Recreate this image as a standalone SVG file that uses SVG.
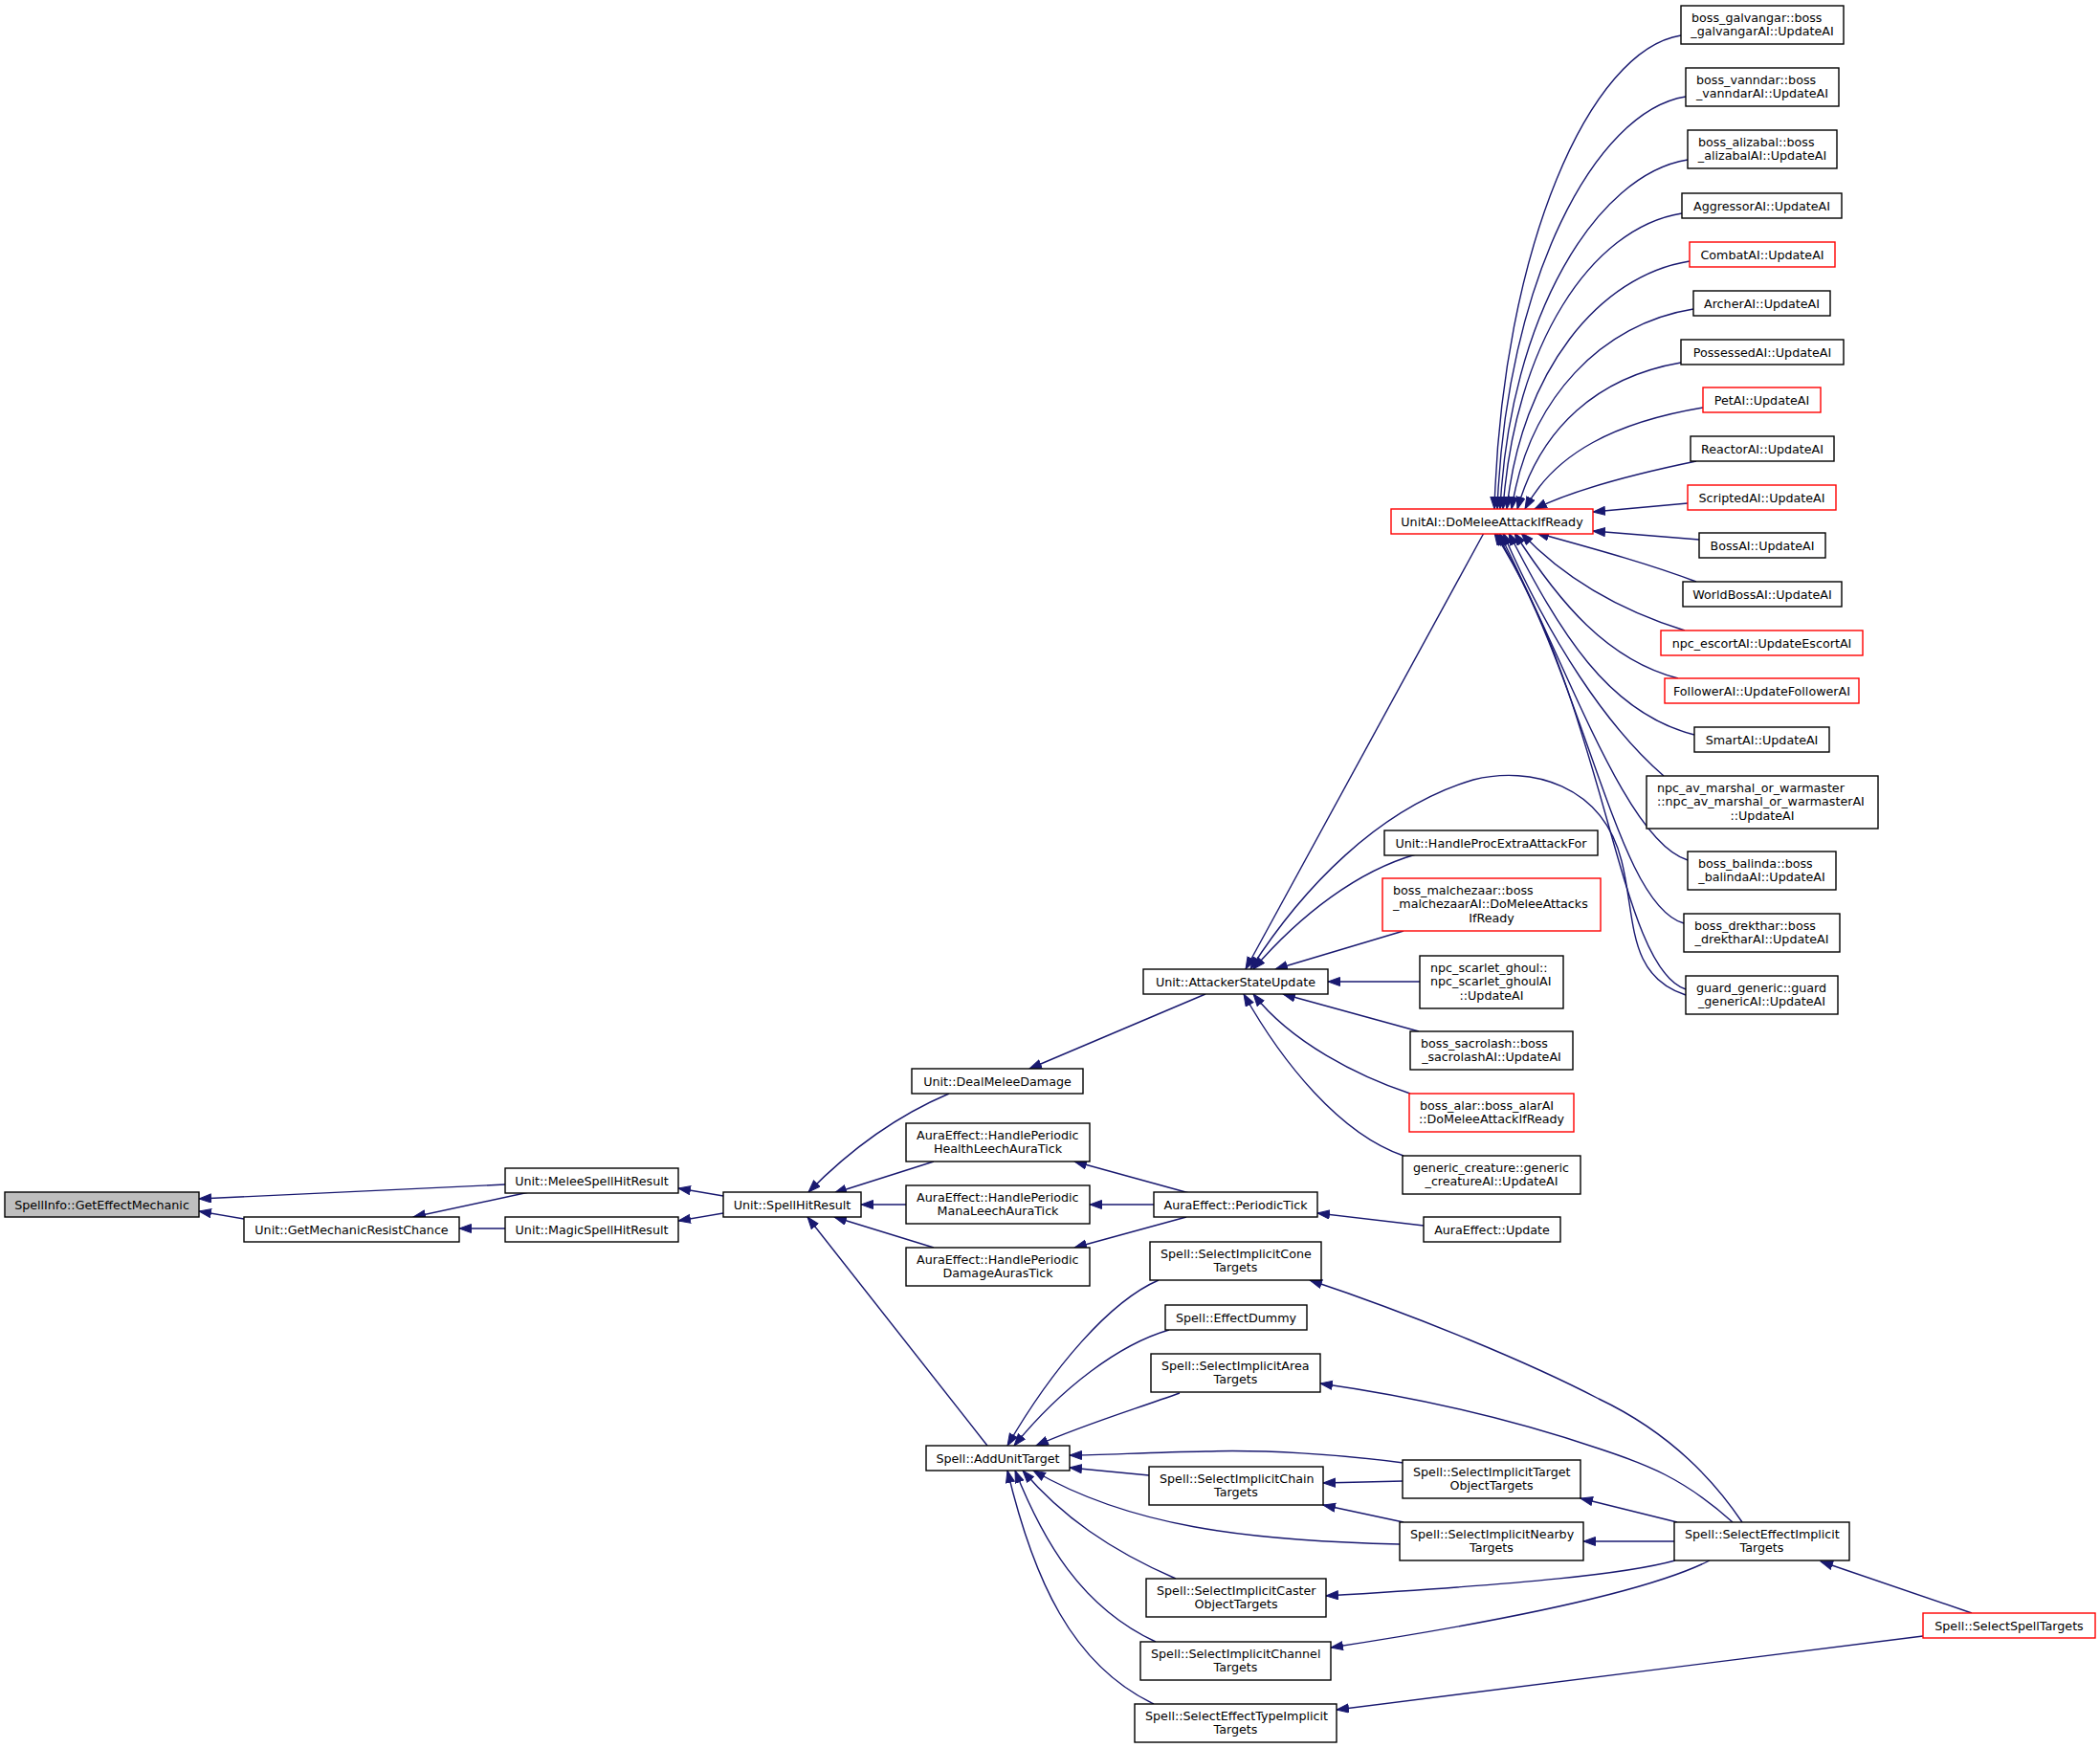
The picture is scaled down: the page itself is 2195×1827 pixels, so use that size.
<svg xmlns="http://www.w3.org/2000/svg" width="2195" height="1827" viewBox="0 0 2195 1827">
<defs>
<style>
.n rect{fill:#fff;stroke:#000;stroke-width:1.4}
.r rect{fill:#fff;stroke:#ff0000;stroke-width:1.4}
.g rect{fill:#bfbfbf;stroke:#000;stroke-width:1.4}
text{font-family:"DejaVu Sans","Liberation Sans",sans-serif;font-size:12.7px;fill:#000}
.c{text-anchor:middle}
#edges path{fill:none;stroke:#191970;stroke-width:1.4;marker-end:url(#ah)}
</style>
<marker id="ah" markerUnits="userSpaceOnUse" markerWidth="16" markerHeight="12" refX="13" refY="5" orient="auto" viewBox="0 0 16 12">
<path d="M0.5,0.5 L13,5 L0.5,9.5 z" fill="#191970" stroke="#191970" stroke-width="1"/>
</marker>
</defs>
<rect width="2195" height="1827" fill="#fff"/>
<g id="edges">
<path d="M528,1238 L208,1253"/>
<path d="M255,1274 L208,1266"/>
<path d="M553,1246 L432,1272"/>
<path d="M528,1284 L480,1284"/>
<path d="M756,1250 L709,1242"/>
<path d="M756,1268 L709,1276"/>
<path d="M992,1143 C940,1165 890,1200 845,1246"/>
<path d="M976,1214 L872,1247"/>
<path d="M947,1259 L900,1259"/>
<path d="M976,1304 L872,1272"/>
<path d="M1032,1511 L844,1272"/>
<path d="M1243,1247 L1123,1214"/>
<path d="M1206,1259 L1139,1259"/>
<path d="M1240,1272 L1123,1304"/>
<path d="M1488,1281 L1377,1268"/>
<path d="M1260,1039 L1076,1117"/>
<path d="M1551,557 L1302,1013"/>
<path d="M1480,893 C1420,910 1360,955 1310,1013"/>
<path d="M1467,973 L1333,1013"/>
<path d="M1484,1026 L1388,1026"/>
<path d="M1483,1078 L1341,1039"/>
<path d="M1474,1143 C1420,1125 1350,1090 1310,1039"/>
<path d="M1467,1208 C1400,1185 1340,1110 1300,1039"/>
<path d="M1762,1040 C1700,1020 1710,960 1695,900 C1675,820 1600,800 1540,815 C1440,845 1360,930 1307,1013"/>
<path d="M1757,37 C1662,52 1570,259 1562,532"/>
<path d="M1762,101 C1667,116 1574,294 1565,532"/>
<path d="M1764,167 C1669,182 1578,330 1568,532"/>
<path d="M1758,223 C1663,238 1583,361 1571,532"/>
<path d="M1766,273 C1671,288 1590,389 1575,532"/>
<path d="M1770,323 C1675,338 1598,416 1580,532"/>
<path d="M1757,379 C1670,394 1610,447 1586,532"/>
<path d="M1780,426 C1690,441 1625,473 1594,532"/>
<path d="M1773,482 C1710,495 1645,512 1604,532"/>
<path d="M1764,526 L1665,535"/>
<path d="M1776,564 L1665,555"/>
<path d="M1773,608 C1720,588 1660,572 1606,557"/>
<path d="M1761,659 C1700,640 1640,610 1590,557"/>
<path d="M1754,709 C1680,690 1630,630 1583,557"/>
<path d="M1771,768 C1680,745 1630,660 1577,557"/>
<path d="M1739,811 C1680,760 1620,670 1571,557"/>
<path d="M1764,899 C1700,880 1640,700 1567,557"/>
<path d="M1760,965 C1690,945 1660,720 1564,557"/>
<path d="M1762,1034 C1690,1010 1680,740 1562,557"/>
<path d="M1211,1338 C1160,1360 1100,1430 1053,1511"/>
<path d="M1222,1390 C1170,1405 1110,1450 1060,1511"/>
<path d="M1233,1456 C1180,1475 1130,1490 1083,1511"/>
<path d="M1467,1529 C1400,1520 1320,1515 1260,1517 C1200,1518 1150,1521 1118,1521"/>
<path d="M1201,1542 L1118,1534"/>
<path d="M1463,1614 C1300,1610 1180,1595 1080,1537"/>
<path d="M1229,1650 C1160,1620 1110,1585 1069,1537"/>
<path d="M1208,1716 C1130,1680 1090,1610 1061,1537"/>
<path d="M1206,1781 C1120,1740 1080,1650 1053,1537"/>
<path d="M1467,1548 L1383,1550"/>
<path d="M1467,1591 L1383,1573"/>
<path d="M1753,1591 L1652,1566"/>
<path d="M1750,1611 L1655,1611"/>
<path d="M1821,1591 C1780,1530 1730,1490 1671,1462 C1600,1425 1480,1375 1369,1338"/>
<path d="M1811,1591 C1760,1545 1720,1530 1671,1514 C1600,1490 1500,1463 1380,1446"/>
<path d="M1751,1631 C1700,1645 1600,1655 1386,1668"/>
<path d="M1787,1631 C1730,1660 1600,1690 1391,1722"/>
<path d="M2061,1686 L1903,1632"/>
<path d="M2010,1710 L1397,1787"/>
</g>
<g id="n_spellinfo" class="g"><rect x="5" y="1246" width="203" height="26"/><text class="c" x="106.5" y="1263.5">SpellInfo::GetEffectMechanic</text></g>
<g id="n_getmech" class="n"><rect x="255" y="1272" width="225" height="26"/><text class="c" x="367.5" y="1289.5">Unit::GetMechanicResistChance</text></g>
<g id="n_melee" class="n"><rect x="528" y="1221" width="181" height="26"/><text class="c" x="618.5" y="1238.5">Unit::MeleeSpellHitResult</text></g>
<g id="n_magic" class="n"><rect x="528" y="1272" width="181" height="26"/><text class="c" x="618.5" y="1289.5">Unit::MagicSpellHitResult</text></g>
<g id="n_spellhit" class="n"><rect x="756" y="1246" width="144" height="26"/><text class="c" x="828" y="1263.5">Unit::SpellHitResult</text></g>
<g id="n_dealmelee" class="n"><rect x="953" y="1117" width="179" height="26"/><text class="c" x="1042.5" y="1134.5">Unit::DealMeleeDamage</text></g>
<g id="n_health" class="n"><rect x="947" y="1174" width="192" height="40"/><text x="958" y="1190.5">AuraEffect::HandlePeriodic</text><text class="c" x="1043" y="1205.2">HealthLeechAuraTick</text></g>
<g id="n_mana" class="n"><rect x="947" y="1239" width="192" height="40"/><text x="958" y="1255.5">AuraEffect::HandlePeriodic</text><text class="c" x="1043" y="1270.2">ManaLeechAuraTick</text></g>
<g id="n_damage" class="n"><rect x="947" y="1304" width="192" height="40"/><text x="958" y="1320.5">AuraEffect::HandlePeriodic</text><text class="c" x="1043" y="1335.2">DamageAurasTick</text></g>
<g id="n_addunit" class="n"><rect x="968" y="1511" width="150" height="26"/><text class="c" x="1043" y="1528.5">Spell::AddUnitTarget</text></g>
<g id="n_attacker" class="n"><rect x="1195" y="1013" width="193" height="26"/><text class="c" x="1291.5" y="1030.5">Unit::AttackerStateUpdate</text></g>
<g id="n_periodic" class="n"><rect x="1206" y="1246" width="171" height="26"/><text class="c" x="1291.5" y="1263.5">AuraEffect::PeriodicTick</text></g>
<g id="n_cone" class="n"><rect x="1202" y="1298" width="179" height="40"/><text x="1213" y="1314.5">Spell::SelectImplicitCone</text><text class="c" x="1291.5" y="1329.2">Targets</text></g>
<g id="n_dummy" class="n"><rect x="1218" y="1364" width="148" height="26"/><text class="c" x="1292" y="1381.5">Spell::EffectDummy</text></g>
<g id="n_area" class="n"><rect x="1203" y="1415" width="177" height="40"/><text x="1214" y="1431.5">Spell::SelectImplicitArea</text><text class="c" x="1291.5" y="1446.2">Targets</text></g>
<g id="n_chain" class="n"><rect x="1201" y="1533" width="182" height="40"/><text x="1212" y="1549.5">Spell::SelectImplicitChain</text><text class="c" x="1292" y="1564.2">Targets</text></g>
<g id="n_caster" class="n"><rect x="1198" y="1650" width="188" height="40"/><text x="1209" y="1666.5">Spell::SelectImplicitCaster</text><text class="c" x="1292" y="1681.2">ObjectTargets</text></g>
<g id="n_channel" class="n"><rect x="1192" y="1716" width="199" height="40"/><text x="1203" y="1732.5">Spell::SelectImplicitChannel</text><text class="c" x="1291.5" y="1747.2">Targets</text></g>
<g id="n_efftype" class="n"><rect x="1186" y="1781" width="211" height="40"/><text x="1197" y="1797.5">Spell::SelectEffectTypeImplicit</text><text class="c" x="1291.5" y="1812.2">Targets</text></g>
<g id="n_unitai" class="r"><rect x="1454" y="532" width="211" height="26"/><text class="c" x="1559.5" y="549.5">UnitAI::DoMeleeAttackIfReady</text></g>
<g id="n_procextra" class="n"><rect x="1447" y="868" width="223" height="26"/><text class="c" x="1558.5" y="885.5">Unit::HandleProcExtraAttackFor</text></g>
<g id="n_malchezaar" class="r"><rect x="1445" y="918" width="228" height="55"/><text x="1456" y="934.5">boss_malchezaar::boss</text><text x="1456" y="949">_malchezaarAI::DoMeleeAttacks</text><text class="c" x="1559" y="963.5">IfReady</text></g>
<g id="n_scarlet" class="n"><rect x="1484" y="999" width="150" height="55"/><text x="1495" y="1015.5">npc_scarlet_ghoul::</text><text x="1495" y="1030">npc_scarlet_ghoulAI</text><text class="c" x="1559" y="1044.5">::UpdateAI</text></g>
<g id="n_sacrolash" class="n"><rect x="1474" y="1078" width="170" height="40"/><text x="1485" y="1094.5">boss_sacrolash::boss</text><text class="c" x="1559" y="1109.2">_sacrolashAI::UpdateAI</text></g>
<g id="n_alar" class="r"><rect x="1473" y="1143" width="172" height="40"/><text x="1484" y="1159.5">boss_alar::boss_alarAI</text><text class="c" x="1559" y="1174.2">::DoMeleeAttackIfReady</text></g>
<g id="n_generic" class="n"><rect x="1466" y="1208" width="186" height="40"/><text x="1477" y="1224.5">generic_creature::generic</text><text class="c" x="1559" y="1239.2">_creatureAI::UpdateAI</text></g>
<g id="n_auraupdate" class="n"><rect x="1488" y="1272" width="143" height="26"/><text class="c" x="1559.5" y="1289.5">AuraEffect::Update</text></g>
<g id="n_targetobj" class="n"><rect x="1466" y="1526" width="186" height="40"/><text x="1477" y="1542.5">Spell::SelectImplicitTarget</text><text class="c" x="1559" y="1557.2">ObjectTargets</text></g>
<g id="n_nearby" class="n"><rect x="1463" y="1591" width="192" height="40"/><text x="1474" y="1607.5">Spell::SelectImplicitNearby</text><text class="c" x="1559" y="1622.2">Targets</text></g>
<g id="n_galvangar" class="n"><rect x="1757" y="6" width="170" height="40"/><text x="1768" y="22.5">boss_galvangar::boss</text><text class="c" x="1842" y="37.2">_galvangarAI::UpdateAI</text></g>
<g id="n_vanndar" class="n"><rect x="1762" y="71" width="160" height="40"/><text x="1773" y="87.5">boss_vanndar::boss</text><text class="c" x="1842" y="102.2">_vanndarAI::UpdateAI</text></g>
<g id="n_alizabal" class="n"><rect x="1764" y="136" width="156" height="40"/><text x="1775" y="152.5">boss_alizabal::boss</text><text class="c" x="1842" y="167.2">_alizabalAI::UpdateAI</text></g>
<g id="n_aggressor" class="n"><rect x="1758" y="202" width="167" height="26"/><text class="c" x="1841.5" y="219.5">AggressorAI::UpdateAI</text></g>
<g id="n_combat" class="r"><rect x="1766" y="253" width="152" height="26"/><text class="c" x="1842" y="270.5">CombatAI::UpdateAI</text></g>
<g id="n_archer" class="n"><rect x="1770" y="304" width="143" height="26"/><text class="c" x="1841.5" y="321.5">ArcherAI::UpdateAI</text></g>
<g id="n_possessed" class="n"><rect x="1757" y="355" width="170" height="26"/><text class="c" x="1842" y="372.5">PossessedAI::UpdateAI</text></g>
<g id="n_pet" class="r"><rect x="1780" y="405" width="123" height="26"/><text class="c" x="1841.5" y="422.5">PetAI::UpdateAI</text></g>
<g id="n_reactor" class="n"><rect x="1767" y="456" width="150" height="26"/><text class="c" x="1842" y="473.5">ReactorAI::UpdateAI</text></g>
<g id="n_scripted" class="r"><rect x="1764" y="507" width="155" height="26"/><text class="c" x="1841.5" y="524.5">ScriptedAI::UpdateAI</text></g>
<g id="n_boss" class="n"><rect x="1776" y="557" width="132" height="26"/><text class="c" x="1842" y="574.5">BossAI::UpdateAI</text></g>
<g id="n_worldboss" class="n"><rect x="1759" y="608" width="166" height="26"/><text class="c" x="1842" y="625.5">WorldBossAI::UpdateAI</text></g>
<g id="n_escort" class="r"><rect x="1736" y="659" width="211" height="26"/><text class="c" x="1841.5" y="676.5">npc_escortAI::UpdateEscortAI</text></g>
<g id="n_follower" class="r"><rect x="1740" y="709" width="203" height="26"/><text class="c" x="1841.5" y="726.5">FollowerAI::UpdateFollowerAI</text></g>
<g id="n_smart" class="n"><rect x="1771" y="760" width="141" height="26"/><text class="c" x="1841.5" y="777.5">SmartAI::UpdateAI</text></g>
<g id="n_marshal" class="n"><rect x="1721" y="811" width="242" height="55"/><text x="1732" y="827.5">npc_av_marshal_or_warmaster</text><text x="1732" y="842">::npc_av_marshal_or_warmasterAI</text><text class="c" x="1842" y="856.5">::UpdateAI</text></g>
<g id="n_balinda" class="n"><rect x="1764" y="890" width="155" height="40"/><text x="1775" y="906.5">boss_balinda::boss</text><text class="c" x="1841.5" y="921.2">_balindaAI::UpdateAI</text></g>
<g id="n_drekthar" class="n"><rect x="1760" y="955" width="163" height="40"/><text x="1771" y="971.5">boss_drekthar::boss</text><text class="c" x="1841.5" y="986.2">_drektharAI::UpdateAI</text></g>
<g id="n_guard" class="n"><rect x="1762" y="1020" width="159" height="40"/><text x="1773" y="1036.5">guard_generic::guard</text><text class="c" x="1841.5" y="1051.2">_genericAI::UpdateAI</text></g>
<g id="n_sei" class="n"><rect x="1750" y="1591" width="183" height="40"/><text x="1761" y="1607.5">Spell::SelectEffectImplicit</text><text class="c" x="1841.5" y="1622.2">Targets</text></g>
<g id="n_sst" class="r"><rect x="2010" y="1686" width="180" height="26"/><text class="c" x="2100" y="1703.5">Spell::SelectSpellTargets</text></g>
</svg>
